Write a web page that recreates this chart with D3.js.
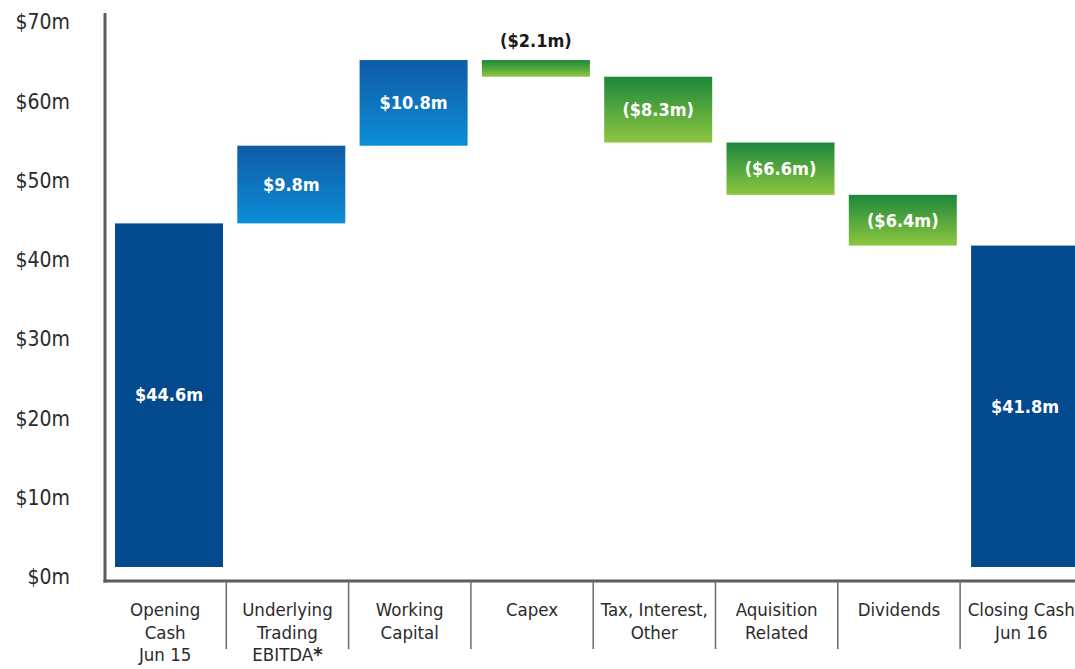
<!DOCTYPE html>
<html>
<head>
<meta charset="utf-8">
<script src="https://cdn.jsdelivr.net/npm/d3@7"></script>
<style>
  html, body { margin: 0; padding: 0; background: #ffffff; overflow: hidden; }
  svg { display: block; }
  text { font-family: "DejaVu Sans Condensed", "Liberation Sans Narrow", "Roboto", sans-serif; }
</style>
</head>
<body>
<svg id="chart" width="1075" height="669"></svg>
<script>
// ---- data ----
const categories = ["Opening Cash Jun 15", "Underlying Trading EBITDA", "Working Capital", "Capex",
                    "Tax, Interest, Other", "Aquisition Related", "Dividends", "Closing Cash Jun 16"];
const categoryLines = [["Opening", "Cash", "Jun 15"], ["Underlying", "Trading", "EBITDA"], ["Working", "Capital"],
                       ["Capex"], ["Tax, Interest,", "Other"], ["Aquisition", "Related"], ["Dividends"], ["Closing Cash", "Jun 16"]];
const values = [44.6, 9.8, 10.8, -2.1, -8.3, -6.6, -6.4, 41.8];
const kinds = ["total", "up", "up", "down", "down", "down", "down", "total"];
const valueLabels = ["$44.6m", "$9.8m", "$10.8m", "($2.1m)", "($8.3m)", "($6.6m)", "($6.4m)", "$41.8m"];
const yTicks = [0, 10, 20, 30, 40, 50, 60, 70];
const yTickLabels = ["$0m", "$10m", "$20m", "$30m", "$40m", "$50m", "$60m", "$70m"];

// ---- layout ----
const W = 1075, H = 669;
const axisX = 105, axisY = 581;
const step = 122.3;
const svg = d3.select("#chart");

const x = d3.scaleBand().domain(categories)
  .range([104, 104 + step * categories.length]).padding(0);
const y = d3.scaleLinear().domain([0, 70]).range([577, 22]);

// cumulative start/end
let running = 0;
const bars = categories.map((c, i) => {
  let start, end;
  if (kinds[i] === "total") { start = 0; end = values[i]; running = values[i]; }
  else { start = running; end = running + values[i]; running = end; }
  return { cat: c, i, start, end, kind: kinds[i], label: valueLabels[i] };
});

// gradients
const defs = svg.append("defs");
const gBlue = defs.append("linearGradient").attr("id", "gBlue").attr("x1", 0).attr("y1", 0).attr("x2", 0).attr("y2", 1);
gBlue.append("stop").attr("offset", "0%").attr("stop-color", "#0f5aa5");
gBlue.append("stop").attr("offset", "100%").attr("stop-color", "#0b8ed6");
const gGreen = defs.append("linearGradient").attr("id", "gGreen").attr("x1", 0).attr("y1", 0).attr("x2", 0).attr("y2", 1);
gGreen.append("stop").attr("offset", "0%").attr("stop-color", "#1c873b");
gGreen.append("stop").attr("offset", "100%").attr("stop-color", "#8dc63f");

const fillFor = k => k === "total" ? "#03498d" : (k === "up" ? "url(#gBlue)" : "url(#gGreen)");

const barInset = 11, barW = 108, baseGap = 10;
const topOf = d => y(Math.max(d.start, d.end));
const bottomOf = d => d.kind === "total" ? y(0) - baseGap : y(Math.min(d.start, d.end));

// bars
svg.append("g").selectAll("rect").data(bars).join("rect")
  .attr("x", d => x(d.cat) + barInset)
  .attr("width", barW)
  .attr("y", topOf)
  .attr("height", d => bottomOf(d) - topOf(d))
  .attr("fill", d => fillFor(d.kind));

// value labels
svg.append("g").selectAll("text").data(bars).join("text")
  .attr("x", d => x(d.cat) + barInset + barW / 2)
  .attr("y", d => (bottomOf(d) - topOf(d) < 30) ? topOf(d) - 19 : (topOf(d) + bottomOf(d)) / 2)
  .attr("dy", "0.35em")
  .attr("text-anchor", "middle")
  .attr("font-size", 18)
  .attr("font-weight", "bold")
  .attr("fill", d => (bottomOf(d) - topOf(d) < 30) ? "#1a1a1a" : "#ffffff")
  .text(d => d.label);

// y tick labels
svg.append("g").selectAll("text").data(yTicks).join("text")
  .attr("x", 70)
  .attr("y", d => y(d))
  .attr("dy", "0.35em")
  .attr("text-anchor", "end")
  .attr("font-size", 21)
  .attr("fill", "#2b2b2b")
  .text((d, i) => yTickLabels[i]);

// axes lines
svg.append("line").attr("x1", axisX).attr("x2", axisX).attr("y1", 13).attr("y2", axisY + 1.5)
  .attr("stroke", "#5c5c5c").attr("stroke-width", 3);
svg.append("line").attr("x1", axisX - 1.5).attr("x2", W).attr("y1", axisY).attr("y2", axisY)
  .attr("stroke", "#5c5c5c").attr("stroke-width", 3);

// category separators
svg.append("g").selectAll("line").data(categories.slice(1)).join("line")
  .attr("x1", d => x(d)).attr("x2", d => x(d))
  .attr("y1", axisY).attr("y2", 649)
  .attr("stroke", "#6a6a6a").attr("stroke-width", 1.5);

// category labels
const cl = svg.append("g").selectAll("text").data(categories).join("text")
  .attr("x", d => x(d) + x.bandwidth() / 2)
  .attr("y", 610)
  .attr("text-anchor", "middle")
  .attr("font-size", 18.5)
  .attr("fill", "#2b2b2b");
cl.each(function(d, i) {
  const t = d3.select(this);
  categoryLines[i].forEach((line, j) => {
    t.append("tspan").attr("x", x(d) + x.bandwidth() / 2).attr("dy", j === 0 ? "0.35em" : 22.5).text(line);
    if (line === "EBITDA") {
      t.append("tspan").attr("font-size", 20).attr("font-weight", "bold").attr("dy", 0).text("*");
    }
  });
});
</script>
</body>
</html>
